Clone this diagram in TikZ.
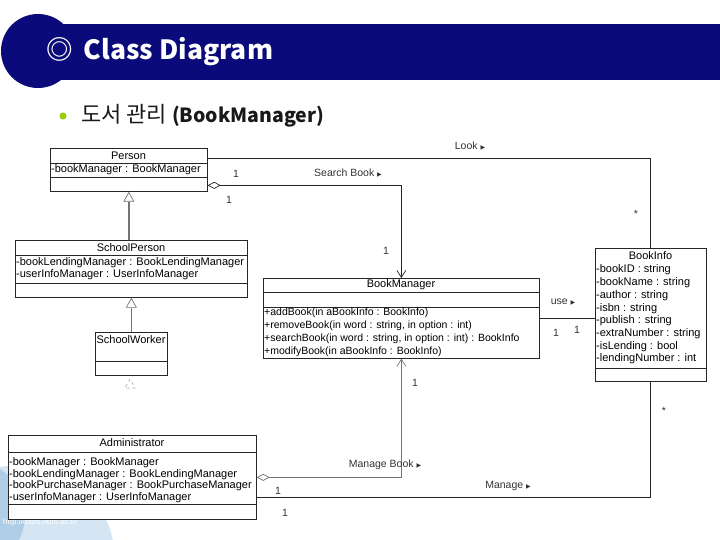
\documentclass[tikz,border=0pt]{standalone}
\usepackage{fontspec}
\setmainfont{Liberation Sans}
\newfontfamily\krfont{Noto Sans CJK KR}
\newfontfamily\djfont{DejaVu Sans}
\usetikzlibrary{arrows.meta}
\definecolor{navy}{RGB}{10,10,122}
\definecolor{bulletgreen}{RGB}{153,204,0}
\definecolor{wmlight}{RGB}{212,230,244}
\definecolor{wmdark}{RGB}{176,205,230}
\newcommand\mytri{{\djfont\fontsize{6}{6}\selectfont ▶}}
\begin{document}
\begin{tikzpicture}[x=1pt,y=-1pt,
  box/.style n args={2}{draw=black!85, line width=0.7pt, fill=white, anchor=north west,
      inner sep=0pt, minimum width=#1, minimum height=#2},
  ttl/.style={font=\fontsize{11}{12}\selectfont, inner sep=0pt},
  txt/.style={font=\fontsize{11}{12}\selectfont, inner sep=0pt, anchor=west},
  optxt/.style={font=\fontsize{10.5}{12}\selectfont, inner sep=0pt, anchor=west},
  lbl/.style={font=\fontsize{10.5}{12}\selectfont, inner sep=0pt, text=black!80},
  sep/.style={draw=black!85, line width=0.7pt},
  assoc/.style={draw=black!85, line width=0.8pt},
  gassoc/.style={draw=black!55, line width=1.2pt},
  gen/.style={draw=black!55, line width=1.5pt, -{Triangle[open,length=10pt,width=11pt,line width=0.7pt]}},
  aggrnav/.style={{Diamond[open,length=13pt,width=7pt,line width=0.7pt]}-{Straight Barb[length=7pt,width=9pt,line width=0.7pt]}}
]
\useasboundingbox (0,0) rectangle (720,540);

% watermark
\fill[wmlight] (20,560) circle (95);
\fill[wmdark] (-30,515) circle (55);
\node[font=\fontsize{8}{9}\selectfont, text=white, anchor=west, inner sep=0pt] (wm) at (3,522) {http://daps.hufs.ac.kr};

% header
\fill[navy] (60,24) rectangle (720,80);
\fill[navy] (38,51) circle (37);
\node[font=\krfont\bfseries\fontsize{26.5}{29}\selectfont, text=white, anchor=west, inner sep=0pt] (title) at (46,52) {◎\hspace{11pt}Class Diagram};
\fill[bulletgreen] (63,116) circle (3.5);
\node[font=\krfont\fontsize{22}{24}\selectfont, text=black!90, anchor=west, inner sep=0pt] (sub) at (81,116) {도서 관리 {\bfseries\fontsize{19.5}{22}\selectfont(BookManager)}};

% Person
\node[box={157pt}{43pt}] (person) at (50,148) {};
\draw[sep] (person.north west) ++(0,15) -- ++(157,0);
\draw[sep] (person.north west) ++(0,29) -- ++(157,0);
\node[ttl] (personT) at (128.5,155.5) {Person};
\node[txt] (personA) at (51,170) {-bookManager : BookManager};

% SchoolPerson
\node[box={232pt}{57pt}] (sp) at (15,240) {};
\draw[sep] (sp.north west) ++(0,15) -- ++(232,0);
\draw[sep] (sp.north west) ++(0,43) -- ++(232,0);
\node[ttl] (spT) at (131,247.5) {SchoolPerson};
\node[txt] (spA1) at (16,262.5) {-bookLendingManager : BookLendingManager};
\node[txt] (spA2) at (16,275) {-userInfoManager : UserInfoManager};

% SchoolWorker
\node[box={72pt}{43pt}] (sw) at (95,332) {};
\draw[sep] (sw.north west) ++(0,29) -- ++(72,0);
\node[ttl] (swT) at (131,340) {SchoolWorker};
\draw[black!35, dashed, line width=0.6pt] (130,379) -- (125,388) -- (135,388) -- cycle;

% BookManager
\node[box={276pt}{80pt}] (bm) at (263,278) {};
\draw[sep] (bm.north west) ++(0,14) -- ++(276,0);
\draw[sep] (bm.north west) ++(0,29) -- ++(276,0);
\node[ttl] (bmT) at (401,285) {BookManager};
\node[optxt] (bmO1) at (264,312.5) {+addBook(in aBookInfo : BookInfo)};
\node[optxt] (bmO2) at (264,325.5) {+removeBook(in word : string, in option : int)};
\node[optxt] (bmO3) at (264,338.5) {+searchBook(in word : string, in option : int) : BookInfo};
\node[optxt] (bmO4) at (264,351.5) {+modifyBook(in aBookInfo : BookInfo)};

% BookInfo
\node[box={111pt}{133pt}] (bi) at (595,248) {};
\draw[sep] (bi.north west) ++(0,120) -- ++(111,0);
\node[ttl] (biT) at (650.5,256) {BookInfo};
\node[txt] (biA1) at (596,269.5) {-bookID : string};
\node[txt] (biA2) at (596,282.5) {-bookName : string};
\node[txt] (biA3) at (596,295.5) {-author : string};
\node[txt] (biA4) at (596,308.5) {-isbn : string};
\node[txt] (biA5) at (596,321) {-publish : string};
\node[txt] (biA6) at (596,334) {-extraNumber : string};
\node[txt] (biA7) at (596,346.5) {-isLending : bool};
\node[txt] (biA8) at (596,359) {-lendingNumber : int};

% Administrator
\node[box={248pt}{84pt}] (adm) at (8,435) {};
\draw[sep] (adm.north west) ++(0,17) -- ++(248,0);
\draw[sep] (adm.north west) ++(0,69) -- ++(248,0);
\node[ttl] (admT) at (132,443) {Administrator};
\node[txt] (admA1) at (9,463) {-bookManager : BookManager};
\node[txt] (admA2) at (9,474.5) {-bookLendingManager : BookLendingManager};
\node[txt] (admA3) at (9,486) {-bookPurchaseManager : BookPurchaseManager};
\node[txt] (admA4) at (9,497.5) {-userInfoManager : UserInfoManager};

% connectors
\draw[assoc] ([yshift=11.5pt]person.east) -| (bi.north);
\draw[assoc, aggrnav] ([yshift=-15.5pt]person.east) -| (bm.north);
\draw[gen] (person.south |- sp.north) -- (person.south);
\draw[gen] (sw.north) -- (sp.south);
\draw[assoc] (bm.east) -- (bm.east -| bi.west);
\draw[gassoc, aggrnav] (adm.east) -| (bm.south);
\draw[assoc] ([yshift=-20pt]adm.east) -| (bi.south);

% labels
\node[lbl] (lLook) at (470,146) {Look \mytri};
\node[lbl] (lSearch) at (348,173) {Search Book \mytri};
\node[lbl] (m1) at (236,174) {1};
\node[lbl] (m2) at (229,200) {1};
\node[lbl] (m3) at (386,251) {1};
\node[lbl] (m4) at (636,214) {*};
\node[lbl] (lUse) at (563,302) {use \mytri};
\node[lbl] (m5) at (556,333) {1};
\node[lbl] (m6) at (577,330) {1};
\node[lbl] (m7) at (415,383) {1};
\node[lbl] (m8) at (664,411) {*};
\node[lbl] (lMB) at (385,465) {Manage Book \mytri};
\node[lbl] (lM) at (508,486) {Manage \mytri};
\node[lbl] (m9) at (278,491) {1};
\node[lbl] (m10) at (285,513) {1};
\end{tikzpicture}
\end{document}
